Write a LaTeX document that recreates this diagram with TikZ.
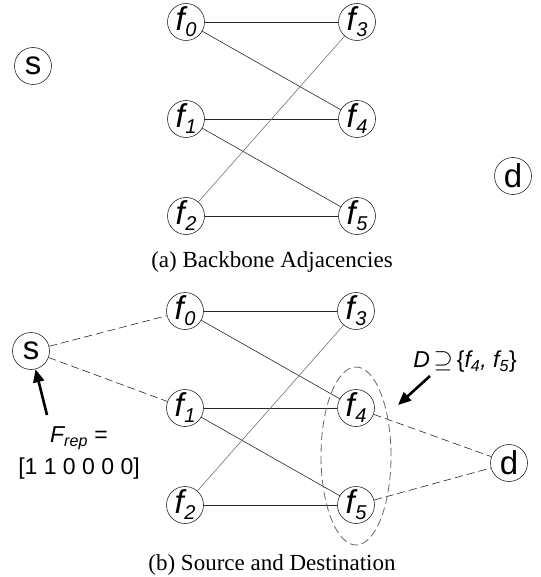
\documentclass[tikz,border=0pt]{standalone}
\usepackage{fontspec}
\setmainfont{Liberation Serif}
\setsansfont{Liberation Sans}
\usetikzlibrary{arrows.meta}
\tikzset{
  vtx/.style={circle,draw=black!85,line width=0.6pt,minimum size=37pt,inner sep=0pt,
    font=\sffamily\fontsize{33}{33}\selectfont},
  edge/.style={line width=0.6pt,draw=black!85},
  lightedge/.style={line width=0.6pt,draw=black!55},
  dashedge/.style={line width=0.6pt,draw=black!85,dash pattern=on 8pt off 4pt},
  setell/.style={line width=0.8pt,draw=black!60,dash pattern=on 8pt off 4pt},
  bigarrow/.style={line width=2.6pt,-{Triangle[length=13pt,width=11pt]}},
  lbl/.style={font=\sffamily\fontsize{23}{27}\selectfont,align=center,inner sep=0pt},
  captext/.style={font=\rmfamily\fontsize{23}{27}\selectfont,inner sep=0pt}
}
\newcommand{\fl}[1]{\itshape f\kern0.5pt\raisebox{-6pt}{\fontsize{20}{20}\selectfont #1}}
\begin{document}
\begin{tikzpicture}[x=1pt,y=-1pt]
\useasboundingbox (0,0) rectangle (540,577);
% ---- panel (a)
\node[vtx] (a0) at (186,22) {\fl{0}};
\node[vtx] (a1) at (186,119) {\fl{1}};
\node[vtx] (a2) at (186,216) {\fl{2}};
\node[vtx] (a3) at (357,22) {\fl{3}};
\node[vtx] (a4) at (357,119) {\fl{4}};
\node[vtx] (a5) at (357,216) {\fl{5}};
\node[vtx] (as) at (33,66) {s};
\node[vtx] (ad) at (513,176) {d};
\draw[edge] (a0) -- (a3);
\draw[edge] (a0) -- (a4);
\draw[edge] (a1) -- (a4);
\draw[edge] (a1) -- (a5);
\draw[lightedge] (a2) -- (a3);
\draw[edge] (a2) -- (a5);
\node[captext] (capa) at (272,262) {(a)\ Backbone Adjacencies};
% ---- panel (b)
\node[vtx] (b0) at (185,311) {\fl{0}};
\node[vtx] (b1) at (185,408) {\fl{1}};
\node[vtx] (b2) at (185,505) {\fl{2}};
\node[vtx] (b3) at (356,311) {\fl{3}};
\node[vtx] (b4) at (356,408) {\fl{4}};
\node[vtx] (b5) at (356,505) {\fl{5}};
\node[vtx] (bs) at (31,351) {s};
\node[vtx] (bd) at (509,463) {d};
\draw[edge] (b0) -- (b3);
\draw[edge] (b0) -- (b4);
\draw[edge] (b1) -- (b4);
\draw[edge] (b1) -- (b5);
\draw[lightedge] (b2) -- (b3);
\draw[edge] (b2) -- (b5);
\draw[dashedge] (bs) -- (b0);
\draw[dashedge] (bs) -- (b1);
\draw[dashedge] (b4) -- (bd);
\draw[dashedge] (b5) -- (bd);
\draw[setell] (356,456) ellipse [x radius=35pt,y radius=89pt];
% labels and arrows
\node[lbl] (frep) at (79,438) {\itshape F\textsubscript{rep}\upshape\ =};
\node[lbl] (vec) at (79,469) {[1 1 0 0 0 0]};
\coordinate (frept) at (47,415);
\draw[bigarrow] (frept) -- (bs);
\node[lbl] (dset) at (465,362) {\itshape D\,\upshape$\supseteq$\,\{\itshape f\textsubscript{4}, f\textsubscript{5}\upshape\}};
\coordinate (dtail) at (430,376);
\coordinate (dtip) at (398,405);
\draw[bigarrow] (dtail) -- (dtip);
\node[captext] (capb) at (272,565) {(b)\ Source and Destination};
\end{tikzpicture}
\end{document}
